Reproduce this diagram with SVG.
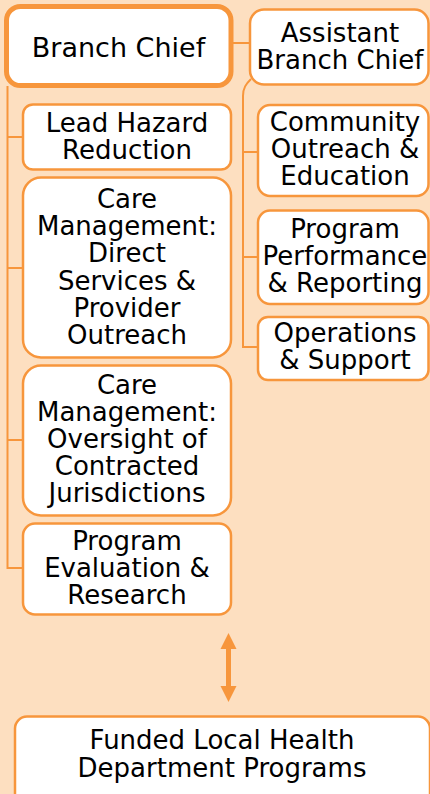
<svg xmlns="http://www.w3.org/2000/svg" width="430" height="794" viewBox="0 0 430 794">
<style>
.box{fill:#ffffff;stroke:#f7963c;stroke-width:2.5}
.chief{fill:#ffffff;stroke:#f7963c;stroke-width:5}
.lbl{font-family:"DejaVu Sans",sans-serif;font-size:26px;fill:#000000;text-anchor:middle}
.conn{fill:none;stroke:#f7963c;stroke-width:2}
</style>
<rect x="0" y="0" width="430" height="794" fill="#fddfc0"/>
<g id="connectors">
<path class="conn" d="M7.5,86 V568 H23 M7.5,137 H23 M7.5,268 H23 M7.5,440 H23"/>
<path class="conn" d="M233,43 H250"/>
<path class="conn" d="M251,79 C246,84 243,88 243,96 V347 H258 M243,152 H258 M243,257 H258"/>
<g id="arrow" fill="#f7963c">
<rect x="226" y="647" width="5" height="41"/>
<polygon points="228.5,633 220.5,649 236.5,649"/>
<polygon points="228.5,702 220.5,686 236.5,686"/>
</g>
</g>
<g id="branch-chief">
<rect class="chief" x="6.5" y="6.5" width="224.5" height="79" rx="14"/>
<text class="lbl" x="118.5" y="56.5" style="font-size:27px">Branch Chief</text>
</g>
<g id="lead-hazard">
<rect class="box" x="23" y="104.5" width="208" height="65" rx="10"/>
<text class="lbl" x="127" y="132">Lead Hazard</text>
<text class="lbl" x="127" y="159">Reduction</text>
</g>
<g id="care-direct">
<rect class="box" x="23" y="177.5" width="208" height="180" rx="18"/>
<text class="lbl" x="127" y="208">Care</text>
<text class="lbl" x="127" y="235.2">Management:</text>
<text class="lbl" x="127" y="262.4">Direct</text>
<text class="lbl" x="127" y="289.6">Services &amp;</text>
<text class="lbl" x="127" y="316.8">Provider</text>
<text class="lbl" x="127" y="344">Outreach</text>
</g>
<g id="care-oversight">
<rect class="box" x="23" y="365.5" width="208" height="150" rx="18"/>
<text class="lbl" x="127" y="393.5">Care</text>
<text class="lbl" x="127" y="420.7">Management:</text>
<text class="lbl" x="127" y="447.9">Oversight of</text>
<text class="lbl" x="127" y="475.1">Contracted</text>
<text class="lbl" x="127" y="502.3">Jurisdictions</text>
</g>
<g id="program-evaluation">
<rect class="box" x="23" y="523.5" width="208" height="91" rx="12"/>
<text class="lbl" x="127" y="550">Program</text>
<text class="lbl" x="127" y="577">Evaluation &amp;</text>
<text class="lbl" x="127" y="604">Research</text>
</g>
<g id="assistant-chief">
<rect class="box" x="250" y="9.5" width="178.5" height="75" rx="14"/>
<text class="lbl" x="340" y="42">Assistant</text>
<text class="lbl" x="340" y="69">Branch Chief</text>
</g>
<g id="community-outreach">
<rect class="box" x="258" y="105" width="170.5" height="91" rx="12"/>
<text class="lbl" x="345" y="131">Community</text>
<text class="lbl" x="345" y="158">Outreach &amp;</text>
<text class="lbl" x="345" y="185">Education</text>
</g>
<g id="program-performance">
<rect class="box" x="258" y="210.5" width="170.5" height="93.5" rx="12"/>
<text class="lbl" x="345" y="238">Program</text>
<text class="lbl" x="345" y="265">Performance</text>
<text class="lbl" x="345" y="292">&amp; Reporting</text>
</g>
<g id="operations">
<rect class="box" x="258" y="317" width="170.5" height="63" rx="10"/>
<text class="lbl" x="345" y="342">Operations</text>
<text class="lbl" x="345" y="369">&amp; Support</text>
</g>
<g id="funded-programs">
<rect class="box" x="15" y="716.5" width="415" height="100" rx="12"/>
<text class="lbl" x="222" y="749">Funded Local Health</text>
<text class="lbl" x="222" y="777">Department Programs</text>
</g>
</svg>
